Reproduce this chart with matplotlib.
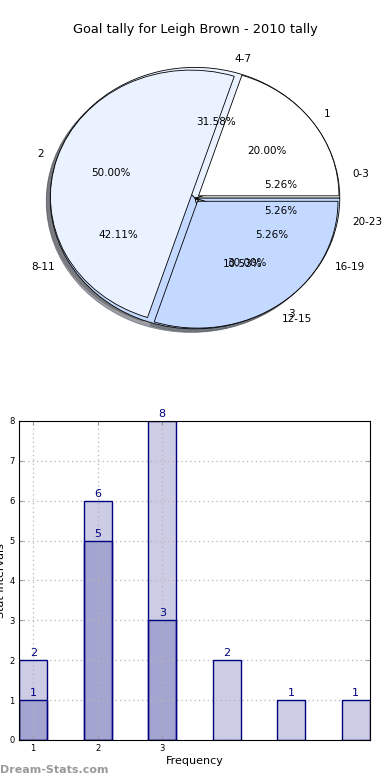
import matplotlib
matplotlib.use("Agg")
import matplotlib.pyplot as plt
import numpy as np

# pie data: goals per time interval, and tally split
intervals = ['0-3', '4-7', '8-11', '12-15', '16-19', '20-23']
interval_goals = [1, 6, 8, 2, 1, 1]
tally_labels = ['1', '2', '3']
tally_counts = [2, 5, 3]
pie_colors = ['#FFFFFF', '#EBF2FF', '#C4D9FF']

# bar data
bar_totals = [2, 6, 8, 2, 1, 1]
bar_inner = [1, 5, 3]
tick_labels = ['1', '2', '3']

title = 'Goal tally for Leigh Brown - 2010 tally'

fig = plt.figure(figsize=(3.9, 7.8), dpi=100)
fig.text(0.5, 1 - 30 / 780, title, ha='center', va='center', fontsize=9.3)

# --- pie ---
ax1 = fig.add_axes([0.036, 0.5365, 0.928, 0.419])
wp = dict(edgecolor='black', linewidth=0.6)
ax1.pie(interval_goals, labels=intervals, colors=pie_colors * 2,
        autopct='%1.2f%%', shadow=dict(alpha=0.5), wedgeprops=wp,
        textprops=dict(fontsize=7.5))
ax1.pie(tally_counts, labels=tally_labels, colors=pie_colors,
        autopct='%1.2f%%', explode=[0.03] * 3, radius=0.97,
        shadow=dict(alpha=0.4), wedgeprops=wp, textprops=dict(fontsize=7.5))
ax1.set_aspect('auto')
ax1.set_xlim(-1.25, 1.25)
ax1.set_ylim(-1.25, 1.25)

# --- bars ---
ax2 = fig.add_axes([0.0487, 0.0513, 0.9, 0.409])
x = np.arange(1, len(bar_totals) + 1)
w = 0.44
navy = '#000080'
ax2.bar(x, bar_totals, width=w, color='#CCCCE4', linewidth=0, zorder=1)
ax2.bar(x[:len(bar_inner)], bar_inner, width=w, color='#A3A5D0', linewidth=0, zorder=2)
# outlines on top of the grid
ax2.bar(x, bar_totals, width=w, fill=False, edgecolor=navy, linewidth=1, zorder=3)
ax2.bar(x[:len(bar_inner)], bar_inner, width=w, fill=False, edgecolor=navy,
        linewidth=1, zorder=3)
for xi, v in zip(x, bar_totals):
    ax2.annotate(str(v), (xi, v), xytext=(0, 1.5), textcoords='offset points',
                 ha='center', va='bottom', color=navy, fontsize=8, zorder=5)
for xi, v in zip(x, bar_inner):
    ax2.annotate(str(v), (xi, v), xytext=(0, 1.5), textcoords='offset points',
                 ha='center', va='bottom', color=navy, fontsize=8, zorder=5)

ax2.set_xlim(1 - w / 2, len(bar_totals) + w / 2)
ax2.set_ylim(0, 8)
ax2.set_xticks(x[:len(tick_labels)])
ax2.set_xticklabels(tick_labels)
ax2.set_yticks(range(0, 9))
ax2.set_axisbelow(False)
ax2.grid(True, linestyle=(0, (1, 2.5)), color='#b5b5b5', linewidth=0.9)
for s in ax2.spines.values():
    s.set_zorder(4)
ax2.tick_params(direction='in', top=True, right=True, labelsize=6,
                color='#999999', length=3, pad=3)
ax2.set_xlabel('Frequency', fontsize=8, labelpad=2)
ax2.set_ylabel('Stat Intervals', fontsize=8)
ax2.yaxis.set_label_coords(-0.038, 0.5)

fig.text(0.0, 1 - 770 / 780, 'Dream-Stats.com', ha='left', va='center',
         fontsize=8, fontweight='bold', color='#9a9a9a')

fig.savefig('out.png', dpi=100)
